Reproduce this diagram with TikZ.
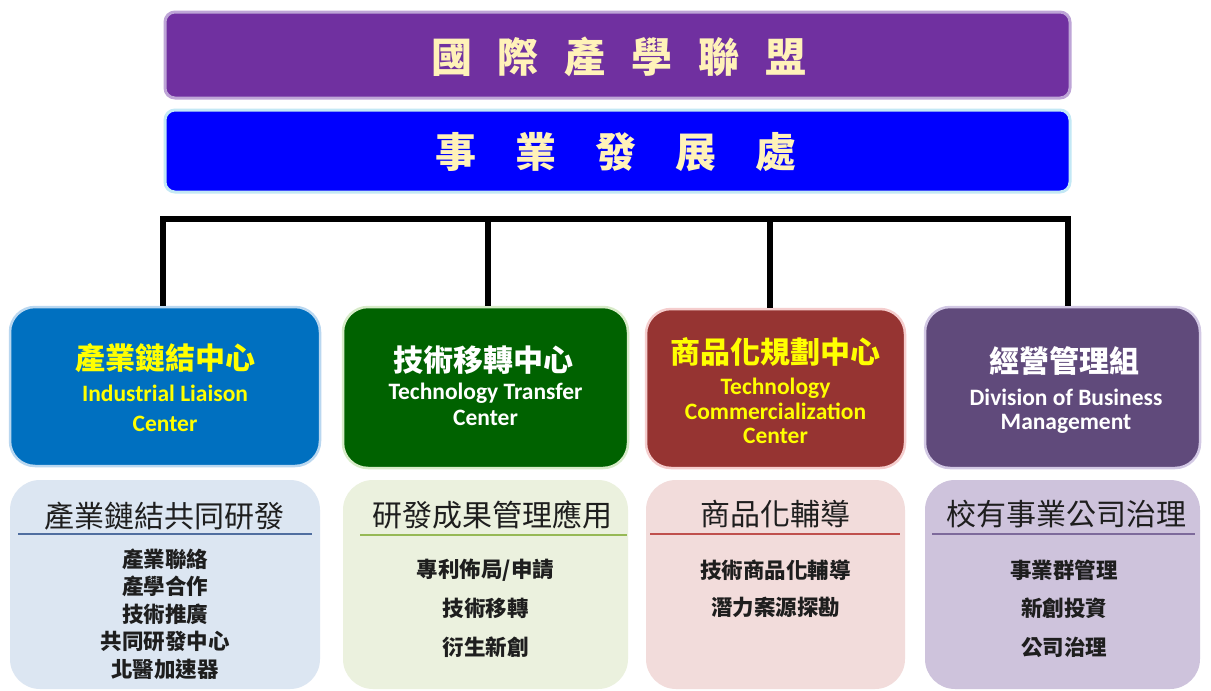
\documentclass[tikz,border=0pt]{standalone}
\usepackage{fontspec}
\setmainfont{Carlito}
\newfontfamily\cjk{Noto Sans CJK TC}
\definecolor{barpurple}{RGB}{112,48,160}
\definecolor{barpurpleedge}{RGB}{190,165,215}
\definecolor{barblue}{RGB}{0,0,255}
\definecolor{barblueedge}{RGB}{195,232,245}
\definecolor{toptext}{RGB}{255,242,185}
\definecolor{mA}{RGB}{0,112,192}
\definecolor{mAedge}{RGB}{185,215,240}
\definecolor{mB}{RGB}{0,98,0}
\definecolor{mBedge}{RGB}{215,235,200}
\definecolor{mC}{RGB}{150,52,50}
\definecolor{mCedge}{RGB}{245,205,205}
\definecolor{mD}{RGB}{96,74,123}
\definecolor{mDedge}{RGB}{210,200,228}
\definecolor{lA}{RGB}{220,230,242}
\definecolor{lB}{RGB}{235,241,222}
\definecolor{lC}{RGB}{242,220,219}
\definecolor{lD}{RGB}{206,195,220}
\definecolor{rA}{RGB}{80,110,160}
\definecolor{rB}{RGB}{150,185,85}
\definecolor{rC}{RGB}{192,80,77}
\definecolor{rD}{RGB}{125,105,155}
\definecolor{ink}{RGB}{30,30,30}
\definecolor{ylw}{RGB}{255,255,0}
\newcommand\gapT{\hspace{26pt}}
\newcommand\gapB{\hspace{39pt}}
\begin{document}
\begin{tikzpicture}[x=1pt,y=-1pt,
  topbar/.style={rounded corners=10pt, line width=3pt, minimum width=905pt, inner sep=0pt},
  toptext/.style={text=toptext, font=\cjk\bfseries\fontsize{41}{41}\selectfont, inner sep=0pt},
  midbox/.style={rounded corners=25pt, line width=2.5pt, inner sep=0pt},
  lowbox/.style={rounded corners=30pt, inner sep=0pt},
  midcjk/.style={font=\cjk\bfseries\fontsize{30}{30}\selectfont, inner sep=0pt},
  mideng/.style={font=\bfseries\fontsize{23.5}{26}\selectfont, align=center, inner sep=0pt},
  lowtitle/.style={font=\cjk\fontsize{30}{30}\selectfont, text=ink, inner sep=0pt},
  lowitem/.style={font=\cjk\bfseries\fontsize{21.5}{21.5}\selectfont, text=ink, inner sep=0pt},
  rule/.style={line width=1.5pt},
  bus/.style={line width=6pt, black}]
\useasboundingbox (0,0) rectangle (1211,691);
\fill[white] (0,0) rectangle (1211,691);

% top bars
\node[topbar, fill=barpurple, draw=barpurpleedge, minimum height=86pt] (alliance) at (617.5,55) {};
\node[toptext] at (619,57) {國\gapT 際\gapT 產\gapT 學\gapT 聯\gapT 盟};
\node[topbar, fill=barblue, draw=barblueedge, minimum height=82pt] (office) at (617.5,151) {};
\node[toptext] at (616,152) {事\gapB 業\gapB 發\gapB 展\gapB 處};

% middle boxes
\node[midbox, fill=mA, draw=mAedge, minimum width=310pt, minimum height=159pt] (m1) at (165,386.5) {};
\node[midbox, fill=mB, draw=mBedge, minimum width=285pt, minimum height=161pt] (m2) at (485.5,387.5) {};
\node[midbox, fill=mC, draw=mCedge, minimum width=259pt, minimum height=159pt] (m3) at (775.5,388.5) {};
\node[midbox, fill=mD, draw=mDedge, minimum width=275pt, minimum height=161pt] (m4) at (1062.5,387.5) {};

% connectors
\coordinate (hl) at (0,219);
\draw[bus, line join=miter] ([xshift=-2pt]m1.north) -- ([xshift=-2pt]m1.north |- hl) -- ([xshift=5pt]m4.north |- hl) -- ([xshift=5pt]m4.north);
\draw[bus] ([xshift=2.5pt]m2.north |- hl) -- ([xshift=2.5pt]m2.north);
\draw[bus] ([xshift=-5.5pt]m3.north |- hl) -- ([xshift=-5.5pt]m3.north);

% middle texts
\node[midcjk, text=ylw] at (165,358) {產業鏈結中心};
\node[mideng, text=ylw, font=\bfseries\fontsize{23.5}{30}\selectfont] at (165,408) {Industrial Liaison\\Center};
\node[midcjk, text=white] at (483,360) {技術移轉中心};
\node[mideng, text=white] at (485.5,404) {Technology Transfer\\Center};
\node[midcjk, text=ylw] at (775.5,352) {商品化規劃中心};
\node[mideng, text=ylw, font=\bfseries\fontsize{23.5}{24.5}\selectfont] at (775.5,411) {Technology\\Commercialization\\Center};
\node[midcjk, text=white] at (1064,361) {經營管理組};
\node[mideng, text=white, font=\bfseries\fontsize{23.5}{24.5}\selectfont] at (1066,411) {Division of Business\\Management};

% lower boxes
\node[lowbox, fill=lA, minimum width=310pt, minimum height=209pt] (l1) at (165,584.5) {};
\node[lowbox, fill=lB, minimum width=285pt, minimum height=209pt] (l2) at (485.5,584.5) {};
\node[lowbox, fill=lC, minimum width=259pt, minimum height=209pt] (l3) at (775.5,584.5) {};
\node[lowbox, fill=lD, minimum width=275pt, minimum height=209pt] (l4) at (1062.5,584.5) {};

\draw[rule, rA] (18,534) -- (312,534);
\draw[rule, rB] (360,535) -- (627,535);
\draw[rule, rC] (650,534) -- (900,534);
\draw[rule, rD] (932,534) -- (1195,534);

\node[lowtitle] at (165,516) {產業鏈結共同研發};
\node[lowitem] at (165,559) {產業聯絡};
\node[lowitem] at (165,586.5) {產學合作};
\node[lowitem] at (165,614) {技術推廣};
\node[lowitem] at (165,641.5) {共同研發中心};
\node[lowitem] at (165,669) {北醫加速器};

\node[lowtitle] at (492,515) {研發成果管理應用};
\node[lowitem] at (485.5,570) {專利佈局/申請};
\node[lowitem] at (485.5,608) {技術移轉};
\node[lowitem] at (485.5,647) {衍生新創};

\node[lowtitle] at (775.5,514) {商品化輔導};
\node[lowitem] at (775.5,570) {技術商品化輔導};
\node[lowitem] at (775.5,607) {潛力案源探勘};

\node[lowtitle] at (1066,514) {校有事業公司治理};
\node[lowitem] at (1064,570) {事業群管理};
\node[lowitem] at (1064,608) {新創投資};
\node[lowitem] at (1064,647) {公司治理};
\end{tikzpicture}
\end{document}
